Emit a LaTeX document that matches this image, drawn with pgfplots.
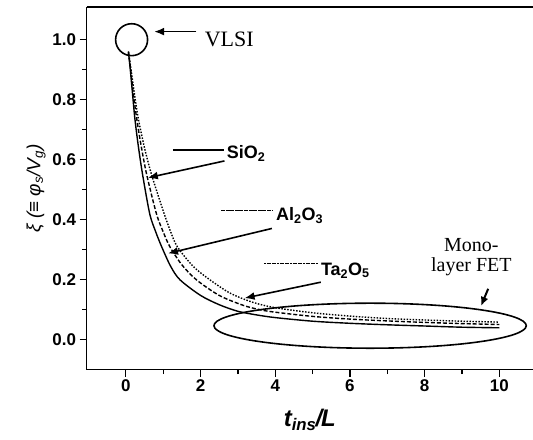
\documentclass[border=0pt]{standalone}
\usepackage{pgfplots}
\pgfplotsset{compat=1.18}
\usepackage{fontspec}
\setmainfont{Liberation Serif}
\setsansfont{Liberation Sans}
\usetikzlibrary{calc,arrows.meta}

\begin{document}
\begin{tikzpicture}
\begin{axis}[
  scale only axis, width=447pt, height=362.7pt,
  xmin=-1.05, xmax=10.9, ymin=-0.099, ymax=1.108,
  axis x line*=box, axis y line*=left,
  tick pos=left,
  xtick={0,2,4,6,8,10}, ytick={0,0.2,0.4,0.6,0.8,1.0},
  minor tick num=1,
  tick align=outside,
  major tick length=7pt, minor tick length=4.5pt,
  every tick/.style={black, line width=1.3pt},
  axis line style={line width=1.6pt},
  /pgf/number format/assume math mode=true,
  ticklabel style={font=\sffamily\bfseries\fontsize{17}{17}\selectfont},
  y tick label style={/pgf/number format/.cd, fixed, fixed zerofill, precision=1},
  xlabel={\sffamily\bfseries\itshape\fontsize{24}{24}\selectfont t\textsubscript{ins}\kern-1pt/\kern-1pt L},
  xlabel style={at={(rel axis cs:0.5,0)}, anchor=base, yshift=-57pt},
  ylabel={\sffamily\itshape\fontsize{19}{19}\selectfont ξ (≡ φ\textsubscript{s}/V\textsubscript{g})},
  ylabel style={yshift=0pt},
  clip=false,
]
% curves
\addplot[black, line width=1.4pt, smooth, tension=0.5] coordinates {
(0.07,0.96)(0.12,0.90)(0.18,0.82)(0.24,0.74)(0.33,0.65)(0.45,0.55)(0.64,0.42)(0.8,0.36)(0.96,0.31)(1.2,0.245)(1.45,0.20)(2.0,0.148)(2.5,0.117)(3.0,0.095)(3.5,0.083)(4,0.074)(5,0.062)(6,0.055)(7,0.05)(8,0.046)(9,0.042)(10,0.04)};
\addplot[black, line width=1.4pt, dash pattern=on 4pt off 2pt, smooth, tension=0.5] coordinates {
(0.07,0.96)(0.13,0.90)(0.2,0.82)(0.3,0.73)(0.42,0.64)(0.56,0.55)(0.82,0.42)(1.0,0.36)(1.18,0.31)(1.5,0.25)(1.89,0.2)(2.5,0.148)(3.14,0.115)(3.6,0.10)(4,0.092)(5,0.078)(6,0.069)(7,0.063)(8,0.058)(9,0.054)(10,0.051)};
\addplot[black, line width=1.4pt, dash pattern=on 1.5pt off 1.5pt, smooth, tension=0.5] coordinates {
(0.07,0.96)(0.14,0.90)(0.23,0.82)(0.33,0.74)(0.5,0.64)(0.69,0.55)(1.0,0.43)(1.2,0.36)(1.38,0.31)(1.8,0.245)(2.25,0.20)(2.8,0.155)(3.4,0.125)(4,0.107)(5,0.09)(6,0.079)(7,0.071)(8,0.066)(9,0.062)(10,0.059)};

% legend-like lines and labels
\draw[line width=1.6pt] (axis cs:1.26,0.633) -- (axis cs:2.62,0.633);
\node[anchor=base west, inner sep=0pt, font=\sffamily\bfseries\fontsize{18}{18}\selectfont] at (axis cs:2.70,0.603) {SiO\textsubscript{2}};
\draw[line width=1.2pt, dash pattern=on 4pt off 0.6pt] (axis cs:2.55,0.431) -- (axis cs:3.91,0.431);
\node[anchor=base west, inner sep=0pt, font=\sffamily\bfseries\fontsize{18}{18}\selectfont] at (axis cs:4.02,0.398) {Al\textsubscript{2}O\textsubscript{3}};
\draw[line width=1.2pt, dash pattern=on 2pt off 0.6pt] (axis cs:3.70,0.255) -- (axis cs:5.14,0.255);
\node[anchor=base west, inner sep=0pt, font=\sffamily\bfseries\fontsize{18}{18}\selectfont] at (axis cs:5.22,0.215) {Ta\textsubscript{2}O\textsubscript{5}};

% arrows
\draw[line width=1.6pt, -{Latex[length=10pt,width=8pt]}] (axis cs:2.64,0.596) -- (axis cs:0.59,0.54);
\draw[line width=1.6pt, -{Latex[length=10pt,width=8pt]}] (axis cs:3.91,0.371) -- (axis cs:1.13,0.288);
\draw[line width=1.6pt, -{Latex[length=10pt,width=8pt]}] (axis cs:5.22,0.192) -- (axis cs:3.18,0.139);
\draw[line width=1.6pt, -{Latex[length=10pt,width=8pt]}] (axis cs:1.89,1.027) -- (axis cs:0.76,1.027);
\draw[line width=2pt, -{Latex[length=9pt,width=8pt]}] (axis cs:9.70,0.17) -- (axis cs:9.51,0.113);

% VLSI circle and label
\draw[line width=1.6pt] (axis cs:0.155,1.0) circle[radius=16pt];
\node[anchor=base west, inner sep=0pt, font=\rmfamily\fontsize{22}{22}\selectfont] at (axis cs:2.11,0.978) {VLSI};

% Monolayer FET
\node[anchor=base, inner sep=0pt, font=\rmfamily\fontsize{20}{20}\selectfont] at (axis cs:9.25,0.294) {Mono-};
\node[anchor=base, inner sep=0pt, font=\rmfamily\fontsize{20}{20}\selectfont] at (axis cs:9.25,0.228) {layer FET};
\draw[line width=1.6pt] (axis cs:6.54,0.047) ellipse [x radius=4.18, y radius=0.075];

\coordinate (ll) at (rel axis cs:0,0);
\coordinate (ur) at (rel axis cs:1,1);
\end{axis}
\pgfresetboundingbox
\useasboundingbox ($(ll)+(-86.7pt,-70pt)$) rectangle ($(ur)+(0pt,7.3pt)$);
\end{tikzpicture}
\end{document}
